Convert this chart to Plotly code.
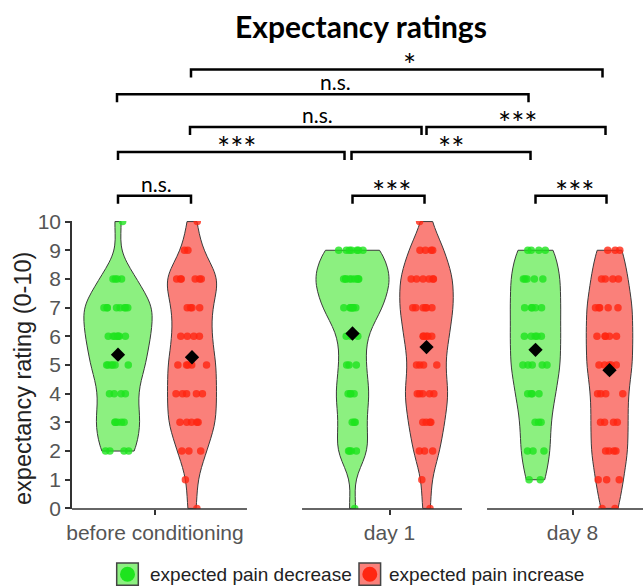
import numpy as np
import plotly.graph_objects as go

# ---------------- data ----------------
groups = ["before conditioning", "day 1", "day 8"]
series_names = ["expected pain decrease", "expected pain increase"]
levels = list(range(0, 11))  # rating levels 0..10

# number of participants giving each rating 0..10
dec_before = [0, 0, 4, 5, 4, 6, 7, 8, 4, 0, 1]
inc_before = [1, 1, 3, 5, 5, 5, 4, 4, 6, 2, 1]
dec_day1 = [1, 0, 4, 3, 4, 3, 3, 7, 9, 7, 0]
inc_day1 = [1, 1, 3, 4, 5, 4, 5, 6, 6, 4, 1]
dec_day8 = [0, 2, 3, 3, 4, 5, 5, 5, 5, 4, 0]
inc_day8 = [2, 3, 4, 4, 4, 5, 5, 5, 4, 3, 0]

counts = {
    (0, 0): dec_before, (0, 1): inc_before,
    (1, 0): dec_day1, (1, 1): inc_day1,
    (2, 0): dec_day8, (2, 1): inc_day8,
}

# significance brackets: (group_a, series_a, group_b, series_b, level, label)
brackets = [
    (0, 1, 2, 1, 0, "*"),
    (0, 0, 2, 0, 1, "n.s."),
    (0, 1, 1, 1, 2, "n.s."),
    (1, 1, 2, 1, 2, "***"),
    (0, 0, 1, 0, 3, "***"),
    (1, 0, 2, 0, 3, "**"),
    (0, 0, 0, 1, 4, "n.s."),
    (1, 0, 1, 1, 4, "***"),
    (2, 0, 2, 1, 4, "***"),
]
# small hand-placement nudges (pixels): left end, right end, label dx
bracket_nudges = [
    (-1, -7, 13), (-1, -7, 13), (-2, -5, 12), (0, -4, 1.5), (0, -8, 6),
    (-1, -5, 9.5), (0, -1, 2.3), (0, -2, 3), (0, -3, 3.8),
]

# ---------------- layout / style ----------------
W, H = 643, 587
ML, MR, MT, MB = 72, 0, 221, 78
PW, PH = W - ML - MR, H - MT - MB
PX_PER_UNIT = 74.0
group_centers = [0.0, 3.169, 5.642]
half_sep = 0.5
x_range = [-83 / PX_PER_UNIT, (PW - 83) / PX_PER_UNIT]
axis_segments = [(-1.1216, 1.243), (-1.182, 0.98), (-1.155, 0.953)]

fill_cols = ["rgb(140,240,128)", "rgb(250,128,122)"]
dot_cols = ["rgba(30,228,30,0.8)", "rgba(255,38,18,0.8)"]
AX_COL = "#333333"
TICK_FONT = dict(family="Liberation Sans, Arial, sans-serif", size=21, color="#555555")


def xp(px):  # pixel -> paper x
    return (px - ML) / PW


def yp(py):  # pixel -> paper y
    return (MT + PH - py) / PH


def vpos(g, s):
    return group_centers[g] + (-half_sep if s == 0 else half_sep)


fig = go.Figure()

for g in range(len(groups)):
    for s in range(2):
        vals = np.repeat(levels, counts[(g, s)]).astype(float)
        fig.add_trace(go.Violin(
            x0=vpos(g, s), y=vals, name=series_names[s],
            scalegroup="all", scalemode="width",
            spanmode="hard", bandwidth=0.62,
            fillcolor=fill_cols[s], line=dict(color="#3a3a3a", width=1),
            points="all", pointpos=0, jitter=0.45,
            marker=dict(color=dot_cols[s], size=7.5, line=dict(width=0)),
            box_visible=False, meanline_visible=False,
            showlegend=False, hoverinfo="skip",
        ))

for g in range(len(groups)):
    for s in range(2):
        c = np.array(counts[(g, s)])
        mean = float(np.average(levels, weights=c))
        fig.add_trace(go.Scatter(
            x=[vpos(g, s)], y=[mean], mode="markers",
            marker=dict(symbol="diamond", size=11, color="black"),
            showlegend=False, hoverinfo="skip",
        ))

shapes = []
# broken x-axis segments
for g, (a, b) in enumerate(axis_segments):
    shapes.append(dict(type="line", xref="x", yref="paper",
                       x0=group_centers[g] + a, x1=group_centers[g] + b,
                       y0=0, y1=0, line=dict(color=AX_COL, width=1.5)))

level_px = [69.5, 94.3, 127.0, 152.0, 195.7]
DROP = 8
annotations = []
for (ga, sa, gb, sb, lv, lab), (na, nb, dx) in zip(brackets, bracket_nudges):
    xa = vpos(ga, sa) + na / PX_PER_UNIT
    xb = vpos(gb, sb) + nb / PX_PER_UNIT
    ytop = yp(level_px[lv])
    ybot = yp(level_px[lv] + DROP)
    shapes.append(dict(type="path", xref="x", yref="paper",
                       path=f"M{xa},{ybot} L{xa},{ytop} L{xb},{ytop} L{xb},{ybot}",
                       line=dict(color="black", width=2.5)))
    is_star = "*" in lab
    annotations.append(dict(
        x=(xa + xb) / 2 + dx / PX_PER_UNIT, xref="x",
        y=ytop, yref="paper", yanchor="bottom", xanchor="center",
        yshift=(-16 if is_star else -2),
        text=lab, showarrow=False,
        font=dict(family="Lato, sans-serif", size=(31 if is_star else 21), color="black"),
    ))

# y axis title
annotations.append(dict(
    x=xp(23), y=yp(379), xref="paper", yref="paper", textangle=-90,
    xanchor="center", yanchor="middle",
    text="expectancy rating (0-10)", showarrow=False,
    font=dict(family="Liberation Sans, Arial, sans-serif", size=23.5, color="#222222"),
))

# manual legend
leg_items = [(116.7, 147.7), (359.0, 386.7)]
for s, (bx, tx) in enumerate(leg_items):
    shapes.append(dict(type="rect", xref="paper", yref="paper",
                       x0=xp(bx), x1=xp(bx + 21.6), y0=yp(585.3), y1=yp(563),
                       fillcolor=fill_cols[s], line=dict(color="#444444", width=1.5)))
    cx, cy, r = bx + 10.8, 574.2, 7.5
    shapes.append(dict(type="circle", xref="paper", yref="paper",
                       x0=xp(cx - r), x1=xp(cx + r), y0=yp(cy + r), y1=yp(cy - r),
                       fillcolor=dot_cols[s].replace("0.8)", "1)"), line=dict(width=0)))
    annotations.append(dict(
        x=xp(tx), y=yp(574.5), xref="paper", yref="paper",
        xanchor="left", yanchor="middle", text=series_names[s], showarrow=False,
        font=dict(family="Liberation Sans, Arial, sans-serif", size=19, color="#222222"),
    ))

fig.update_layout(
    width=W, height=H,
    margin=dict(l=ML, r=MR, t=MT, b=MB, pad=0),
    paper_bgcolor="white", plot_bgcolor="white",
    title=dict(text="<b>Expectancy ratings</b>", x=361 / W, xanchor="center",
               y=1 - 27 / H, yanchor="middle", yref="container", xref="container",
               font=dict(family="Lato, sans-serif", size=30, color="black")),
    xaxis=dict(type="linear", range=x_range, showline=False, showgrid=False, zeroline=False,
               tickmode="array", tickvals=group_centers, ticktext=groups,
               ticks="outside", ticklen=5, tickwidth=1.5, tickcolor=AX_COL,
               tickfont=TICK_FONT),
    yaxis=dict(range=[-0.02, 10.02], showline=True, linecolor=AX_COL, linewidth=1.5,
               showgrid=False, zeroline=False, tickmode="array", tickvals=levels,
               ticks="outside", ticklen=5, tickwidth=1.5, tickcolor=AX_COL,
               tickfont=TICK_FONT),
    violinmode="overlay", violingap=0.013, violingroupgap=0,
    shapes=shapes, annotations=annotations,
    showlegend=False,
)

fig.write_html(
    "out.html",
    config={"displayModeBar": False},
    post_script="document.body.style.margin='0px';document.body.style.padding='0px';"
                "document.documentElement.style.overflow='hidden';",
)
